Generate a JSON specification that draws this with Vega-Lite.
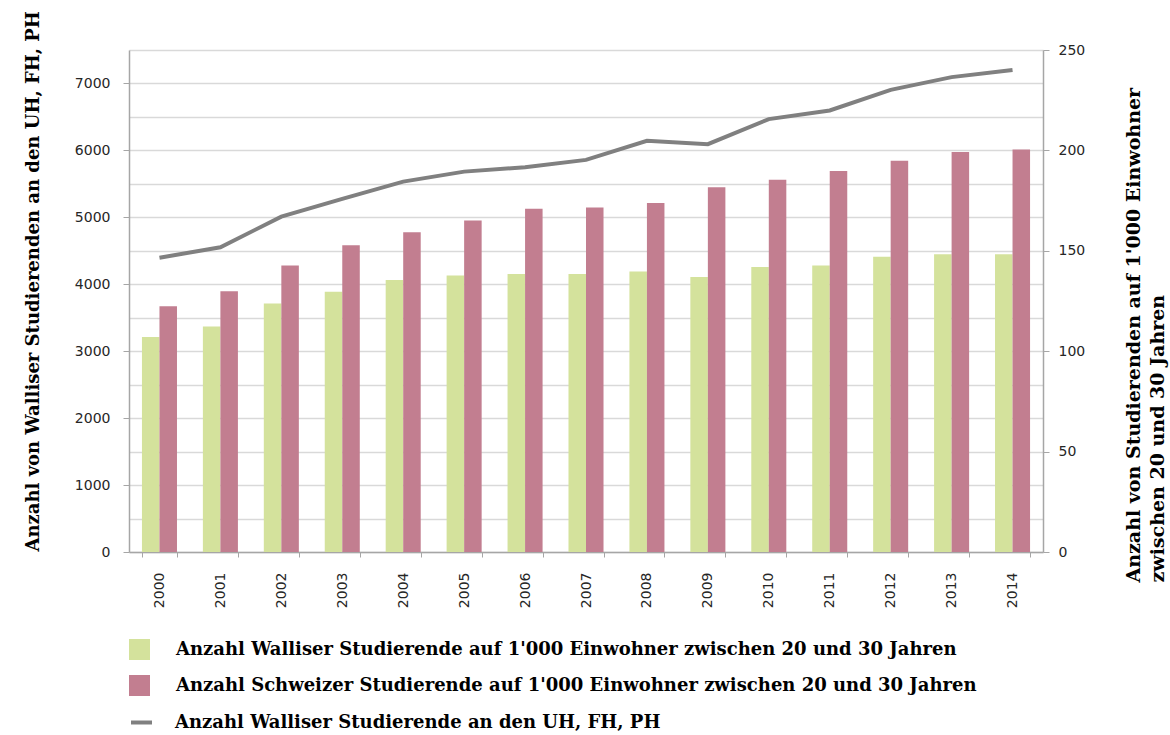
{
  "$schema": "https://vega.github.io/schema/vega-lite/v6.json",
  "autosize": {"type": "none"},
  "width": 914,
  "height": 502,
  "padding": {"left": 129, "top": 50, "right": 127, "bottom": 183},
  "background": "white",
  "config": {"view": {"stroke": null}},
  "datasets": {
    "bars": [
      {"Jahr": "2000", "Serie": "Anzahl Walliser Studierende auf 1'000 Einwohner zwischen 20 und 30 Jahren", "Wert": 107.1},
      {"Jahr": "2000", "Serie": "Anzahl Schweizer Studierende auf 1'000 Einwohner zwischen 20 und 30 Jahren", "Wert": 122.4},
      {"Jahr": "2001", "Serie": "Anzahl Walliser Studierende auf 1'000 Einwohner zwischen 20 und 30 Jahren", "Wert": 112.3},
      {"Jahr": "2001", "Serie": "Anzahl Schweizer Studierende auf 1'000 Einwohner zwischen 20 und 30 Jahren", "Wert": 129.8},
      {"Jahr": "2002", "Serie": "Anzahl Walliser Studierende auf 1'000 Einwohner zwischen 20 und 30 Jahren", "Wert": 123.8},
      {"Jahr": "2002", "Serie": "Anzahl Schweizer Studierende auf 1'000 Einwohner zwischen 20 und 30 Jahren", "Wert": 142.7},
      {"Jahr": "2003", "Serie": "Anzahl Walliser Studierende auf 1'000 Einwohner zwischen 20 und 30 Jahren", "Wert": 129.6},
      {"Jahr": "2003", "Serie": "Anzahl Schweizer Studierende auf 1'000 Einwohner zwischen 20 und 30 Jahren", "Wert": 152.8},
      {"Jahr": "2004", "Serie": "Anzahl Walliser Studierende auf 1'000 Einwohner zwischen 20 und 30 Jahren", "Wert": 135.4},
      {"Jahr": "2004", "Serie": "Anzahl Schweizer Studierende auf 1'000 Einwohner zwischen 20 und 30 Jahren", "Wert": 159.3},
      {"Jahr": "2005", "Serie": "Anzahl Walliser Studierende auf 1'000 Einwohner zwischen 20 und 30 Jahren", "Wert": 137.7},
      {"Jahr": "2005", "Serie": "Anzahl Schweizer Studierende auf 1'000 Einwohner zwischen 20 und 30 Jahren", "Wert": 165.1},
      {"Jahr": "2006", "Serie": "Anzahl Walliser Studierende auf 1'000 Einwohner zwischen 20 und 30 Jahren", "Wert": 138.4},
      {"Jahr": "2006", "Serie": "Anzahl Schweizer Studierende auf 1'000 Einwohner zwischen 20 und 30 Jahren", "Wert": 170.9},
      {"Jahr": "2007", "Serie": "Anzahl Walliser Studierende auf 1'000 Einwohner zwischen 20 und 30 Jahren", "Wert": 138.4},
      {"Jahr": "2007", "Serie": "Anzahl Schweizer Studierende auf 1'000 Einwohner zwischen 20 und 30 Jahren", "Wert": 171.6},
      {"Jahr": "2008", "Serie": "Anzahl Walliser Studierende auf 1'000 Einwohner zwischen 20 und 30 Jahren", "Wert": 139.7},
      {"Jahr": "2008", "Serie": "Anzahl Schweizer Studierende auf 1'000 Einwohner zwischen 20 und 30 Jahren", "Wert": 173.8},
      {"Jahr": "2009", "Serie": "Anzahl Walliser Studierende auf 1'000 Einwohner zwischen 20 und 30 Jahren", "Wert": 136.9},
      {"Jahr": "2009", "Serie": "Anzahl Schweizer Studierende auf 1'000 Einwohner zwischen 20 und 30 Jahren", "Wert": 181.7},
      {"Jahr": "2010", "Serie": "Anzahl Walliser Studierende auf 1'000 Einwohner zwischen 20 und 30 Jahren", "Wert": 141.9},
      {"Jahr": "2010", "Serie": "Anzahl Schweizer Studierende auf 1'000 Einwohner zwischen 20 und 30 Jahren", "Wert": 185.4},
      {"Jahr": "2011", "Serie": "Anzahl Walliser Studierende auf 1'000 Einwohner zwischen 20 und 30 Jahren", "Wert": 142.7},
      {"Jahr": "2011", "Serie": "Anzahl Schweizer Studierende auf 1'000 Einwohner zwischen 20 und 30 Jahren", "Wert": 189.7},
      {"Jahr": "2012", "Serie": "Anzahl Walliser Studierende auf 1'000 Einwohner zwischen 20 und 30 Jahren", "Wert": 147.0},
      {"Jahr": "2012", "Serie": "Anzahl Schweizer Studierende auf 1'000 Einwohner zwischen 20 und 30 Jahren", "Wert": 194.8},
      {"Jahr": "2013", "Serie": "Anzahl Walliser Studierende auf 1'000 Einwohner zwischen 20 und 30 Jahren", "Wert": 148.3},
      {"Jahr": "2013", "Serie": "Anzahl Schweizer Studierende auf 1'000 Einwohner zwischen 20 und 30 Jahren", "Wert": 199.2},
      {"Jahr": "2014", "Serie": "Anzahl Walliser Studierende auf 1'000 Einwohner zwischen 20 und 30 Jahren", "Wert": 148.3},
      {"Jahr": "2014", "Serie": "Anzahl Schweizer Studierende auf 1'000 Einwohner zwischen 20 und 30 Jahren", "Wert": 200.5}
    ],
    "line": [
      {"Jahr": "2000", "Anzahl": 4397},
      {"Jahr": "2001", "Anzahl": 4553},
      {"Jahr": "2002", "Anzahl": 5010},
      {"Jahr": "2003", "Anzahl": 5275},
      {"Jahr": "2004", "Anzahl": 5534},
      {"Jahr": "2005", "Anzahl": 5683},
      {"Jahr": "2006", "Anzahl": 5749},
      {"Jahr": "2007", "Anzahl": 5858},
      {"Jahr": "2008", "Anzahl": 6143},
      {"Jahr": "2009", "Anzahl": 6093},
      {"Jahr": "2010", "Anzahl": 6467},
      {"Jahr": "2011", "Anzahl": 6596},
      {"Jahr": "2012", "Anzahl": 6905},
      {"Jahr": "2013", "Anzahl": 7095},
      {"Jahr": "2014", "Anzahl": 7200}
    ]
  },
  "encoding": {
    "x": {
      "field": "Jahr",
      "type": "nominal",
      "scale": {"paddingInner": 0.425, "paddingOuter": 0.2125},
      "axis": {
        "title": null,
        "labelAngle": 270,
        "labelFont": "DejaVu Sans",
        "labelFontSize": 14,
        "labelColor": "#262626",
        "labelPadding": 15,
        "tickBand": "extent",
        "tickSize": 5,
        "tickColor": "#a6a6a6",
        "domainColor": "#a6a6a6",
        "domainWidth": 1.5,
        "grid": false
      }
    }
  },
  "layer": [
    {
      "data": {"name": "bars"},
      "mark": {"type": "bar"},
      "encoding": {
        "xOffset": {
          "field": "Serie",
          "type": "nominal",
          "sort": ["Anzahl Walliser Studierende auf 1'000 Einwohner zwischen 20 und 30 Jahren", "Anzahl Schweizer Studierende auf 1'000 Einwohner zwischen 20 und 30 Jahren"],
          "scale": {"paddingInner": 0, "paddingOuter": 0}
        },
        "y": {
          "field": "Wert",
          "type": "quantitative",
          "scale": {"domain": [0, 250], "nice": false, "zero": true},
          "axis": {
            "orient": "right",
            "values": [0, 50, 100, 150, 200, 250],
            "grid": false,
            "labelFont": "DejaVu Sans",
            "labelFontSize": 14,
            "labelColor": "#262626",
            "labelPadding": 9,
            "tickSize": 6,
            "tickColor": "#a6a6a6",
            "domainColor": "#a6a6a6",
            "domainWidth": 1.5,
            "title": ["Anzahl von Studierenden auf 1'000 Einwohner", "zwischen 20 und 30 Jahren"],
            "titleFont": "DejaVu Serif",
            "titleFontWeight": "bold",
            "titleFontSize": 19,
            "titleColor": "#000000",
            "titleAngle": 270,
            "titleAlign": "left",
            "titleBaseline": "middle",
            "titleLineHeight": 24,
            "titleX": 90,
            "titleY": 532
          }
        },
        "fill": {
          "field": "Serie",
          "type": "nominal",
          "scale": {
            "domain": ["Anzahl Walliser Studierende auf 1'000 Einwohner zwischen 20 und 30 Jahren", "Anzahl Schweizer Studierende auf 1'000 Einwohner zwischen 20 und 30 Jahren"],
            "range": ["#d4e29c", "#c27e90"]
          },
          "legend": {
            "orient": "none",
            "legendX": 0,
            "legendY": 589,
            "title": null,
            "padding": 0,
            "symbolType": "square",
            "symbolSize": 441,
            "symbolStrokeWidth": 0,
            "labelFont": "DejaVu Serif",
            "labelFontWeight": "bold",
            "labelFontSize": 18,
            "labelColor": "#000000",
            "labelOffset": 26,
            "labelLimit": 1000,
            "rowPadding": 15
          }
        }
      }
    },
    {
      "data": {"name": "line"},
      "mark": {"type": "line", "strokeWidth": 4},
      "encoding": {
        "y": {
          "field": "Anzahl",
          "type": "quantitative",
          "scale": {"domain": [0, 7500], "nice": false, "zero": true},
          "axis": {
            "orient": "left",
            "values": [0, 500, 1000, 1500, 2000, 2500, 3000, 3500, 4000, 4500, 5000, 5500, 6000, 6500, 7000, 7500],
            "labelExpr": "datum.value % 1000 === 0 ? datum.label : ''",
            "format": "d",
            "grid": true,
            "gridColor": "#d9d9d9",
            "gridWidth": 1.5,
            "labelFont": "DejaVu Sans",
            "labelFontSize": 14,
            "labelColor": "#262626",
            "labelPadding": 13,
            "tickSize": 6,
            "tickColor": "#a6a6a6",
            "tickOpacity": {"condition": {"test": "datum.value % 1000 === 0", "value": 1}, "value": 0},
            "domainColor": "#a6a6a6",
            "domainWidth": 1.5,
            "title": "Anzahl von Walliser Studierenden an den UH, FH, PH",
            "titleFont": "DejaVu Serif",
            "titleFontWeight": "bold",
            "titleFontSize": 18,
            "titleColor": "#000000",
            "titleAngle": 270,
            "titleAlign": "left",
            "titleBaseline": "middle",
            "titleX": -96,
            "titleY": 501
          }
        },
        "stroke": {
          "datum": "Anzahl Walliser Studierende an den UH, FH, PH",
          "type": "nominal",
          "scale": {"range": ["#808080"]},
          "legend": {
            "orient": "none",
            "legendX": 0,
            "legendY": 660,
            "title": null,
            "padding": 0,
            "symbolType": "stroke",
            "symbolSize": 441,
            "symbolStrokeWidth": 4,
            "labelFont": "DejaVu Serif",
            "labelFontWeight": "bold",
            "labelFontSize": 18,
            "labelColor": "#000000",
            "labelOffset": 21,
            "labelLimit": 1000
          }
        }
      }
    }
  ],
  "resolve": {"scale": {"y": "independent"}}
}
